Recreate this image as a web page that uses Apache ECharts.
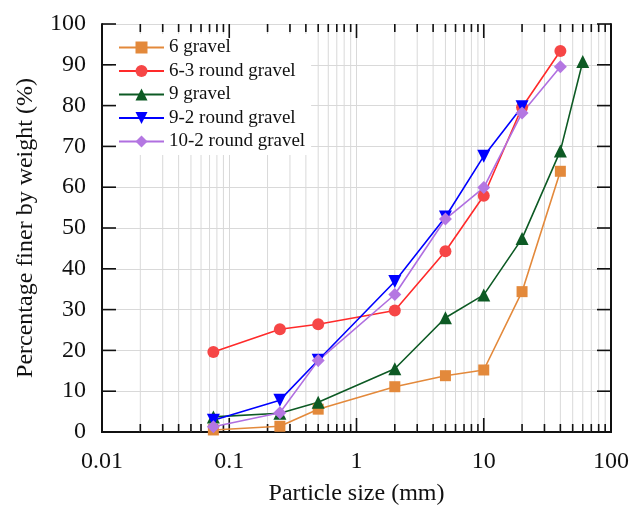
<!DOCTYPE html>
<html>
<head>
<meta charset="utf-8">
<script src="https://cdn.jsdelivr.net/npm/echarts@6/dist/echarts.min.js"></script>
<style>
  html, body { margin: 0; padding: 0; background: #fff; }
  #chart { width: 632px; height: 507px; }
</style>
</head>
<body>
<div id="chart"></div>
<script>
// Particle size distribution (grading curves)
const seriesNames = ['6 gravel', '6-3 round gravel', '9 gravel', '9-2 round gravel', '10-2 round gravel'];

// sieve sizes (mm) and percentage passing for each sample
const size6 = [0.075, 0.25, 0.5, 2, 5, 10, 20, 40];
const pass6 = [0.5, 1.4, 5.6, 11.1, 13.8, 15.2, 34.4, 63.9];

const size63 = [0.075, 0.25, 0.5, 2, 5, 10, 20, 40];
const pass63 = [19.6, 25.2, 26.4, 29.8, 44.3, 57.9, 79.6, 93.4];

const size9 = [0.075, 0.25, 0.5, 2, 5, 10, 20, 40, 60];
const pass9 = [3.7, 4.6, 7.3, 15.5, 28.0, 33.6, 47.4, 68.9, 90.8];

const size92 = [0.075, 0.25, 0.5, 2, 5, 10, 20];
const pass92 = [2.9, 7.8, 17.6, 36.9, 52.7, 67.6, 79.7];

const size102 = [0.075, 0.25, 0.5, 2, 5, 10, 20, 40];
const pass102 = [1.3, 4.7, 17.5, 33.7, 52.2, 59.9, 78.2, 89.5];

const xTickLabels = ['0.01', '0.1', '1', '10', '100'];
const xMajorValues = [0.01, 0.1, 1, 10, 100];
const yTickLabels = ['0', '10', '20', '30', '40', '50', '60', '70', '80', '90', '100'];
const yMajorValues = [0, 10, 20, 30, 40, 50, 60, 70, 80, 90, 100];

const colors = ['#E3893B', '#FF2A2A', '#0D5A24', '#0000FF', '#B06FE0'];
const markerColors = ['#E3893B', '#F64646', '#0D5A24', '#0000FF', '#B477E2'];
const symbols = ['rect', 'circle', 'triangle', 'triangle', 'diamond'];
const symbolRotates = [0, 0, 0, 180, 0];
const symbolSizes = [11, 12, 13, 13, 13];

// minor positions 2..9 within each decade of the log axis
const minorValues = [];
[0.01, 0.1, 1, 10].forEach(function (d) {
  for (let m = 2; m <= 9; m++) minorValues.push(+(d * m).toPrecision(3));
});

const FONT = "'Liberation Serif', 'Times New Roman', serif";
const TICK_MAJOR = 14;
const TICK_MINOR = 8;

function pairs(xs, ys) { return xs.map(function (x, i) { return [x, ys[i]]; }); }
const sizes = [size6, size63, size9, size92, size102];
const passes = [pass6, pass63, pass9, pass92, pass102];

function logLabel(v) {
  const e = Math.round(Math.log10(v));
  return xTickLabels[e + 2] !== undefined ? xTickLabels[e + 2] : '';
}

const chart = echarts.init(document.getElementById('chart'), null, { renderer: 'canvas' });

const lineSeries = seriesNames.map(function (name, i) {
  return {
    name: name,
    type: 'line',
    xAxisIndex: 0,
    yAxisIndex: 0,
    data: pairs(sizes[i], passes[i]),
    symbol: symbols[i],
    symbolRotate: symbolRotates[i],
    symbolSize: symbolSizes[i],
    showAllSymbol: true,
    lineStyle: { color: colors[i], width: 1.6 },
    itemStyle: { color: markerColors[i] },
    z: 5,
    animation: false
  };
});

// light vertical grid at the minor (2..9) positions
const minorGrid = {
  type: 'custom',
  silent: true,
  z: 1,
  xAxisIndex: 0,
  yAxisIndex: 0,
  data: minorValues.map(function (v) { return [v, 0]; }),
  renderItem: function (params, api) {
    const v = api.value(0);
    const b = api.coord([v, 0]);
    const t = api.coord([v, 100]);
    return {
      type: 'line',
      shape: { x1: b[0], y1: b[1], x2: t[0], y2: t[1] },
      style: { stroke: '#d9d9d9', lineWidth: 1 }
    };
  },
  animation: false
};

const axisLineStyle = { color: '#111', width: 2 };

chart.setOption({
  backgroundColor: '#ffffff',
  animation: false,
  grid: { left: 102, right: 21, top: 24, bottom: 75, containLabel: false, outerBoundsMode: 'none' },
  legend: {
    data: seriesNames,
    orient: 'vertical',
    left: 112,
    top: 34,
    padding: [4, 6, 4, 6],
    backgroundColor: '#ffffff',
    itemWidth: 45,
    itemHeight: 15,
    itemGap: 4.5,
    textStyle: { fontFamily: FONT, fontSize: 19, color: '#111', lineHeight: 19 }
  },
  xAxis: [
    {
      type: 'log',
      logBase: 10,
      min: 0.01,
      max: 100,
      interval: 1,
      position: 'bottom',
      name: 'Particle size (mm)',
      nameLocation: 'middle',
      nameGap: 50,
      nameTextStyle: { fontFamily: FONT, fontSize: 24, color: '#111' },
      axisLine: { show: true, lineStyle: axisLineStyle },
      axisTick: { show: false },
      axisLabel: { fontFamily: FONT, fontSize: 24, color: '#111', margin: 18, formatter: logLabel },
      splitLine: { show: true, lineStyle: { color: '#d9d9d9', width: 1 } }
    },
    {
      type: 'log',
      logBase: 10,
      min: 0.01,
      max: 100,
      interval: 1,
      position: 'top',
      axisLine: { show: true, lineStyle: axisLineStyle },
      axisTick: { show: false },
      axisLabel: { show: false },
      splitLine: { show: false }
    }
  ],
  yAxis: [
    {
      type: 'value',
      min: 0,
      max: 100,
      interval: 10,
      position: 'left',
      name: 'Percentage finer by weight (%)',
      nameLocation: 'middle',
      nameGap: 64,
      nameTextStyle: { fontFamily: FONT, fontSize: 24, color: '#111' },
      axisLine: { show: true, lineStyle: axisLineStyle },
      axisTick: { show: false },
      axisLabel: {
        fontFamily: FONT, fontSize: 24, color: '#111', margin: 16,
        formatter: function (v) { return yTickLabels[Math.round(v / 10)]; }
      },
      splitLine: { show: true, lineStyle: { color: '#d9d9d9', width: 1 } }
    },
    {
      type: 'value',
      min: 0,
      max: 100,
      interval: 10,
      position: 'right',
      axisLine: { show: true, lineStyle: axisLineStyle },
      axisTick: { show: false },
      axisLabel: { show: false },
      splitLine: { show: false }
    }
  ],
  series: [minorGrid].concat(lineSeries)
});

// inward tick marks on all four sides, placed through the axes' own scales
function tickLine(x1, y1, x2, y2) {
  return {
    type: 'line',
    silent: true,
    z: 4,
    shape: { x1: x1, y1: y1, x2: x2, y2: y2 },
    style: { stroke: '#111', lineWidth: 1.6 }
  };
}

const ticks = [];
const yBottom = chart.convertToPixel({ yAxisIndex: 0 }, 0);
const yTop = chart.convertToPixel({ yAxisIndex: 0 }, 100);
const xLeft = chart.convertToPixel({ xAxisIndex: 0 }, 0.01);
const xRight = chart.convertToPixel({ xAxisIndex: 0 }, 100);

xMajorValues.forEach(function (v) {
  const x = chart.convertToPixel({ xAxisIndex: 0 }, v);
  ticks.push(tickLine(x, yBottom, x, yBottom - TICK_MAJOR));
  ticks.push(tickLine(x, yTop, x, yTop + TICK_MAJOR));
});
minorValues.forEach(function (v) {
  const x = chart.convertToPixel({ xAxisIndex: 0 }, v);
  ticks.push(tickLine(x, yBottom, x, yBottom - TICK_MINOR));
  ticks.push(tickLine(x, yTop, x, yTop + TICK_MINOR));
});
yMajorValues.forEach(function (v) {
  const y = chart.convertToPixel({ yAxisIndex: 0 }, v);
  ticks.push(tickLine(xLeft, y, xLeft + TICK_MAJOR, y));
  ticks.push(tickLine(xRight, y, xRight - TICK_MAJOR, y));
});

chart.setOption({ graphic: { elements: ticks } });
</script>
</body>
</html>
